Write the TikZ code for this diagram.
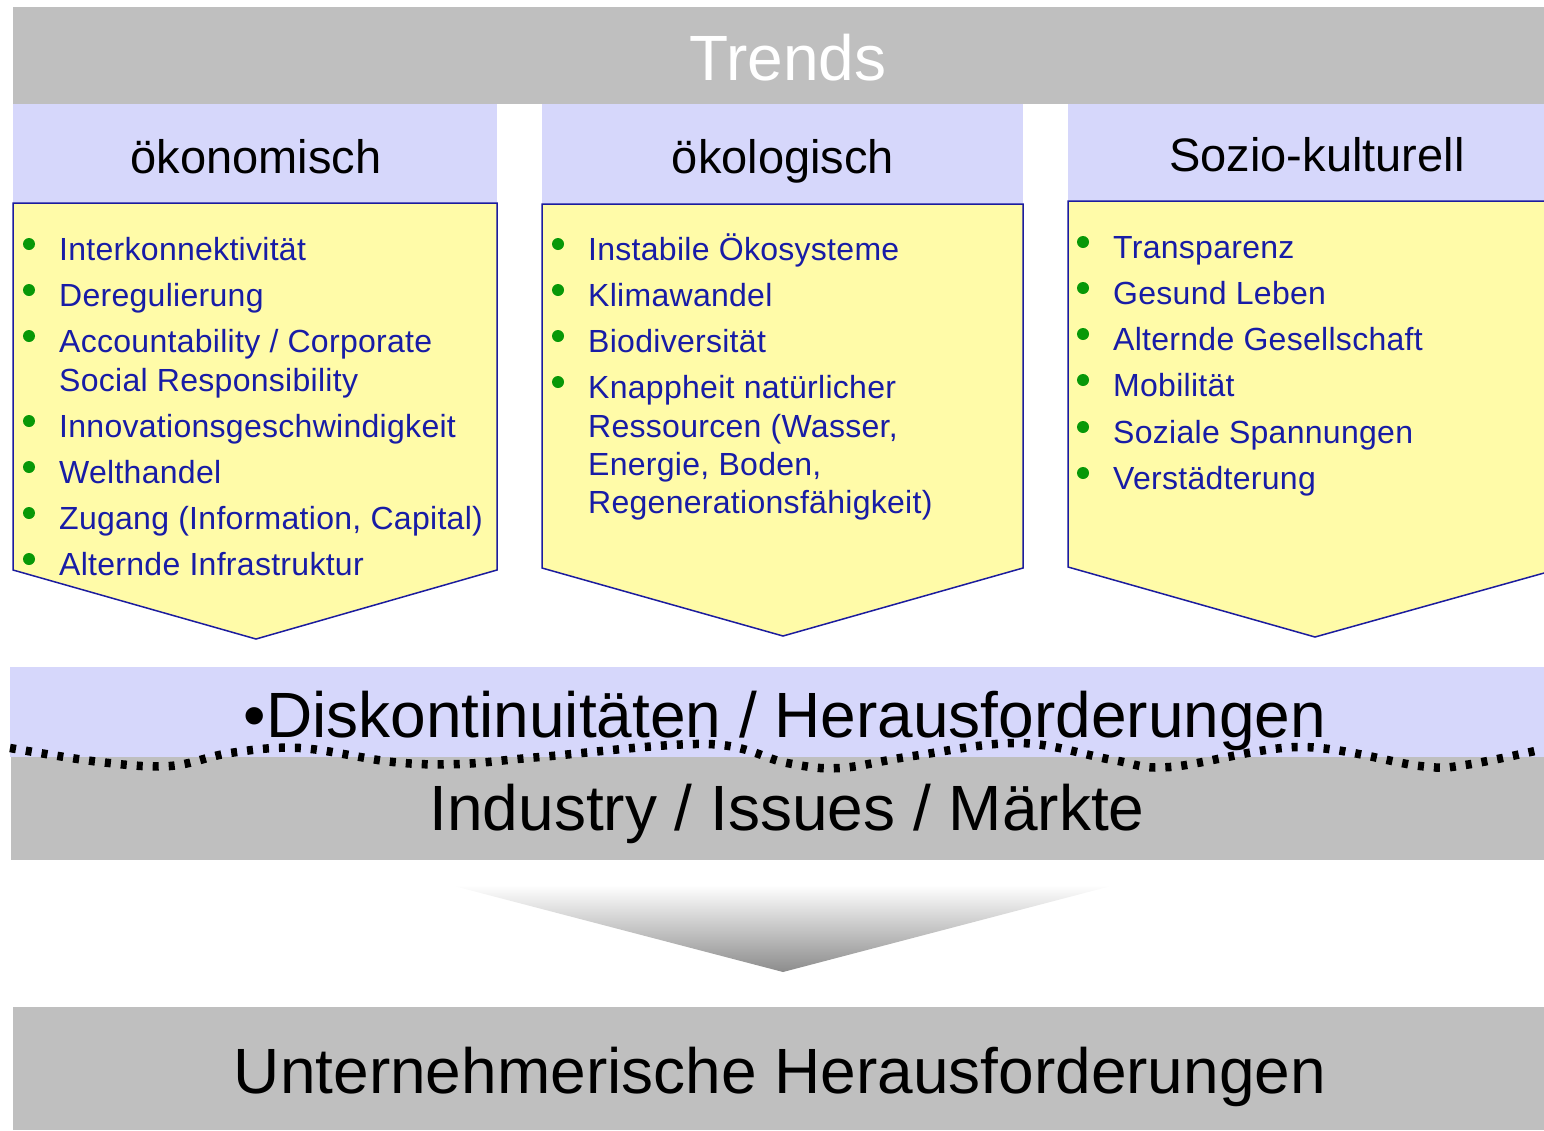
\documentclass[tikz,border=0pt]{standalone}
\usepackage{fontspec}
\setmainfont{Liberation Sans}
\newfontfamily\itemfont[LetterSpace=0.9]{Liberation Sans}
\definecolor{bandgray}{RGB}{191,191,191}
\definecolor{lav}{RGB}{214,215,251}
\definecolor{pyel}{RGB}{255,251,168}
\definecolor{navy}{RGB}{28,28,158}
\definecolor{itemblue}{RGB}{24,28,166}
\definecolor{bgreen}{RGB}{8,152,8}
\definecolor{tipgray}{RGB}{140,140,140}
\begin{document}
\begin{tikzpicture}[x=1pt,y=-1pt,
  itemtxt/.style={anchor=base west, inner sep=0pt, text=itemblue, font=\itemfont\fontsize{32}{38}\selectfont},
  gdot/.style={circle, fill=bgreen, inner sep=0pt, minimum size=12pt},
  headtxt/.style={anchor=base, inner sep=0pt, font=\fontsize{47}{56}\selectfont},
  bigtxt/.style={anchor=base, inner sep=0pt, font=\fontsize{64}{76}\selectfont},
  chev/.style={fill=pyel, draw=navy, line width=1.5pt, line join=miter},
  wavy/.style={line width=8.5pt, dash pattern=on 6pt off 10pt}]
\useasboundingbox (0,0) rectangle (1544,1130);
\clip (0,0) rectangle (1544,1130);

% top band
\fill[bandgray] (13,7) rectangle (1544,104);
\node[bigtxt, text=white] (trends) at (788,80) {Trends};

% headers
\fill[lav] (13,104) rectangle (497,203);
\fill[lav] (542,104) rectangle (1023,204);
\fill[lav] (1068,104) rectangle (1544,202);
\node[headtxt] (h1) at (256,173) {ökonomisch};
\node[headtxt] (h2) at (783,173) {ökologisch};
\node[headtxt] (h3) at (1317,171) {Sozio-kulturell};

% chevrons
\path[chev] (13,203) -- (497,203) -- (497,570) -- (256,639) -- (13,570) -- cycle;
\path[chev] (542,204) -- (1023,204) -- (1023,568) -- (783,636) -- (542,568) -- cycle;
\path[chev] (1068,201) -- (1562,201) -- (1562,568) -- (1315,637) -- (1068,567) -- cycle;

% column 1
\foreach \n/\y in {a/260,b/306,c/352,d/437,e/483,f/529,g/575}
  \node[gdot] (d1\n) at (29,\y-16) {};
\node[itemtxt] (t1a) at (59,260) {Interkonnektivität};
\node[itemtxt] (t1b) at (59,306) {Deregulierung};
\node[itemtxt] (t1c) at (59,352) {Accountability / Corporate};
\node[itemtxt] (t1c2) at (59,391) {Social Responsibility};
\node[itemtxt] (t1d) at (59,437) {Innovationsgeschwindigkeit};
\node[itemtxt] (t1e) at (59,483) {Welthandel};
\node[itemtxt] (t1f) at (59,529) {Zugang (Information, Capital)};
\node[itemtxt] (t1g) at (59,575) {Alternde Infrastruktur};

% column 2
\foreach \n/\y in {a/260,b/306,c/352,d/398}
  \node[gdot] (d2\n) at (558,\y-16) {};
\node[itemtxt] (t2a) at (588,260) {Instabile Ökosysteme};
\node[itemtxt] (t2b) at (588,306) {Klimawandel};
\node[itemtxt] (t2c) at (588,352) {Biodiversität};
\node[itemtxt] (t2d) at (588,398) {Knappheit natürlicher};
\node[itemtxt] (t2d2) at (588,437) {Ressourcen (Wasser,};
\node[itemtxt] (t2d3) at (588,475) {Energie, Boden,};
\node[itemtxt] (t2d4) at (588,513) {Regenerationsfähigkeit)};

% column 3
\foreach \n/\y in {a/258,b/304,c/350,d/396,e/443,f/489}
  \node[gdot] (d3\n) at (1083,\y-16) {};
\node[itemtxt] (t3a) at (1113,258) {Transparenz};
\node[itemtxt] (t3b) at (1113,304) {Gesund Leben};
\node[itemtxt] (t3c) at (1113,350) {Alternde Gesellschaft};
\node[itemtxt] (t3d) at (1113,396) {Mobilität};
\node[itemtxt] (t3e) at (1113,443) {Soziale Spannungen};
\node[itemtxt] (t3f) at (1113,489) {Verstädterung};

% middle band
\fill[lav] (10,667) rectangle (1544,757);
\fill[bandgray] (11,757) rectangle (1544,860);
\node[bigtxt] (disk) at (785,737) {•Diskontinuitäten / Herausforderungen};
\draw[wavy] plot[smooth, tension=0.6] coordinates {(10,748) (100,762) (170,766) (230,753) (300,748) (393,762) (460,764) (540,757) (707,744) (787,763) (840,768) (913,756) (1020,743) (1113,760) (1170,767) (1300,747) (1420,766) (1465,765) (1544,749)};
\node[bigtxt] (ind) at (787,830) {Industry / Issues / Märkte};

% gradient arrow
\shade[top color=white, bottom color=tipgray] (450,885) -- (1115,885) -- (783,972) -- cycle;

% bottom band
\fill[bandgray] (13,1007) rectangle (1544,1130);
\node[bigtxt] (unt) at (780,1093) {Unternehmerische Herausforderungen};
\end{tikzpicture}
\end{document}
